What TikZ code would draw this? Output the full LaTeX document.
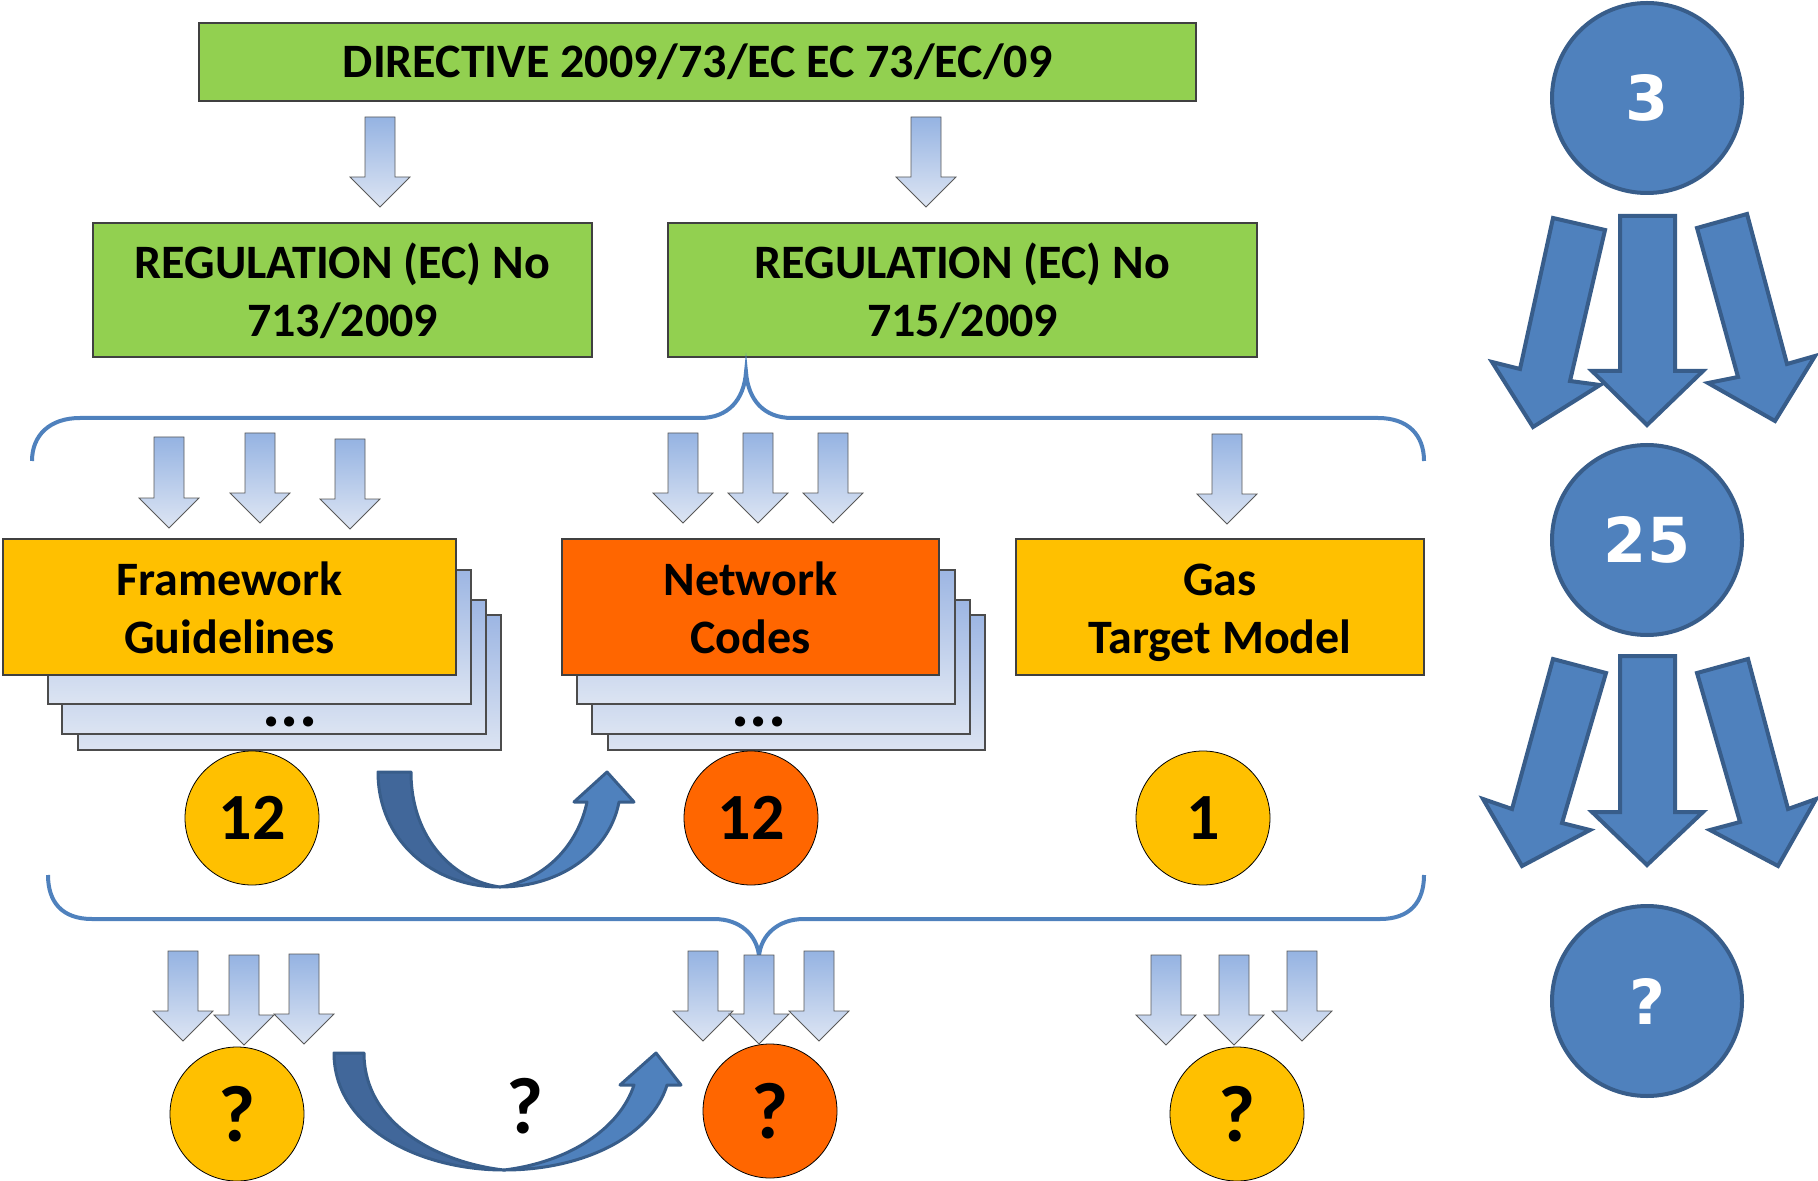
\documentclass[tikz,border=0pt]{standalone}
\usepackage{fontspec}
\setmainfont{Carlito}
\newfontfamily\dvb{DejaVu Sans}
\newcommand\ms{\rule[-5.7pt]{0pt}{29pt}}
\definecolor{grn}{HTML}{92D050}
\definecolor{gold}{HTML}{FFC000}
\definecolor{orng}{HTML}{FF6600}
\definecolor{blu}{HTML}{4F81BD}
\definecolor{bludk}{HTML}{385D8A}
\definecolor{bludk2}{HTML}{41679A}
\definecolor{arrtop}{HTML}{95B3E2}
\definecolor{arrbot}{HTML}{DDE5F3}
\definecolor{stktop}{HTML}{9DB6E3}
\definecolor{stkbot}{HTML}{DCE4F2}
\tikzset{
  box/.style={draw=black!75, line width=0.6pt, inner sep=0pt, align=center,
    font=\fontsize{24}{29}\selectfont\bfseries},
  numc/.style={circle, draw=black, line width=0.4pt, minimum size=67pt, inner sep=0pt,
    font=\fontsize{33}{33}\selectfont\bfseries},
  qfont/.style={font=\fontsize{40}{40}\selectfont\bfseries},
  bigc/.style={circle, draw=bludk, fill=blu, line width=2pt, minimum size=95pt, inner sep=0pt,
    text=white, font=\dvb\fontsize{31}{31}\selectfont\bfseries},
  barrow/.style={draw=black!65, line width=0.4pt, top color=arrtop, bottom color=arrbot},
  stack/.style={draw=black!70, line width=0.6pt, top color=stktop, bottom color=stkbot},
  brace/.style={draw=blu, line width=2pt},
  bigarr/.style={draw=bludk, fill=blu, line width=2pt, line join=miter},
  uarr/.style={draw=bludk, line width=1.5pt, line join=round},
  dots/.style={font=\fontsize{34}{34}\selectfont\bfseries, inner sep=0pt}
}
% block arrow: center x, top y, tip y
\newcommand\dnarrow[3]{\path[barrow] ({#1-15},#2) -- ({#1+15},#2) -- ({#1+15},{#3-30}) -- ({#1+30},{#3-30}) -- (#1,#3) -- ({#1-30},{#3-30}) -- ({#1-15},{#3-30}) -- cycle;}
\begin{document}
\begin{tikzpicture}[x=0.5pt,y=-0.5pt]
\useasboundingbox (0,0) rectangle (1818,1181);

% top level
\node[box, fill=grn, minimum width=498.5pt, minimum height=39pt] (dir) at (697.5,62) {DIRECTIVE 2009/73/EC EC 73/EC/09};
\dnarrow{380}{117}{207}
\dnarrow{926}{117}{207}
\node[box, fill=grn, minimum width=249.5pt, minimum height=67pt] (r713) at (342.5,290) {REGULATION (EC) No\ms\\713/2009\ms};
\node[box, fill=grn, minimum width=294.5pt, minimum height=67pt] (r715) at (962.5,290) {REGULATION (EC) No\ms\\715/2009\ms};

% top brace
\draw[brace] (32,461) .. controls (32,435) and (50,418) .. (80,418) -- (700,418)
  .. controls (728,418) and (744,400) .. (746,372)
  .. controls (748,400) and (764,418) .. (792,418) -- (1378,418)
  .. controls (1408,418) and (1424,435) .. (1424,461);

% arrows into second level
\dnarrow{169}{437}{528}
\dnarrow{260}{433}{523}
\dnarrow{350}{439}{529}
\dnarrow{683}{433}{523}
\dnarrow{758}{433}{523}
\dnarrow{833}{433}{523}
\dnarrow{1227}{434}{524}

% stacks
\draw[stack] (78,615) rectangle (501,750);
\draw[stack] (62,600) rectangle (486,734);
\draw[stack] (48,570) rectangle (471,704);
\draw[stack] (608,615) rectangle (985,750);
\draw[stack] (592,600) rectangle (970,734);
\draw[stack] (577,570) rectangle (955,704);
\node[dots] (d1) at (290,722) {...};
\node[dots] (d2) at (759,722) {...};

\node[box, fill=gold, minimum width=226.5pt, minimum height=68pt] (fg) at (229.5,607) {Framework\ms\\Guidelines\ms};
\node[box, fill=orng, minimum width=188.5pt, minimum height=68pt] (nc) at (750.5,607) {Network\ms\\Codes\ms};
\node[box, fill=gold, minimum width=204pt, minimum height=68pt] (gtm) at (1220,607) {Gas\ms\\Target Model\ms};

% counts
\node[numc, fill=gold] (c1) at (252,818) {12};
\node[numc, fill=orng] (c2) at (751,818) {12};
\node[numc, fill=gold] (c3) at (1203,818) {1};

% U-turn arrow 1
\path[uarr, fill=bludk2] (378,772) .. controls (378,840) and (432,887) .. (500,887)
  .. controls (455,881) and (411,840) .. (411,772) -- cycle;
\path[uarr, fill=blu] (500,887) .. controls (562,887) and (610,850) .. (619,802) -- (634,802) -- (607,772) -- (574,802) -- (587,802)
  .. controls (578,845) and (545,880) .. (500,887) -- cycle;

% bottom brace
\draw[brace] (48,875) .. controls (48,902) and (62,919) .. (92,919) -- (714,919)
  .. controls (740,919) and (757,935) .. (759,956)
  .. controls (761,935) and (778,919) .. (804,919) -- (1380,919)
  .. controls (1410,919) and (1424,902) .. (1424,875);

% bottom arrows
\dnarrow{183}{951}{1041}
\dnarrow{244}{955}{1045}
\dnarrow{304}{954}{1044}
\dnarrow{703}{951}{1041}
\dnarrow{759}{955}{1044}
\dnarrow{819}{951}{1041}
\dnarrow{1166}{955}{1045}
\dnarrow{1234}{955}{1045}
\dnarrow{1302}{951}{1041}

\node[numc, qfont, fill=gold] (q1) at (237,1114) {?};
\node[numc, qfont, fill=orng] (q2) at (770,1111) {?};
\node[numc, qfont, fill=gold] (q3) at (1237,1114) {?};

% U-turn arrow 2
\path[uarr, fill=bludk2] (334,1053) .. controls (334,1128) and (420,1170) .. (504,1170)
  .. controls (440,1163) and (364,1125) .. (364,1053) -- cycle;
\path[uarr, fill=blu] (504,1170) .. controls (585,1170) and (652,1135) .. (667,1085) -- (681,1085) -- (656,1053) -- (620,1085) -- (634,1085)
  .. controls (620,1128) and (570,1162) .. (504,1170) -- cycle;
\node[qfont] (ql) at (525,1106) {?};

% right column
\node[bigc] (b3) at (1647,98) {3};
\node[bigc] (b25) at (1647,540) {25};
\node[bigc] (bq) at (1647,1001) {?};
\path[bigarr] (1553,218) -- (1605,230) -- (1570,381) -- (1600,385) -- (1533,427) -- (1492,362) -- (1520,369) -- cycle;
\path[bigarr] (1620,216) -- (1675,216) -- (1675,371) -- (1703,371) -- (1647,425) -- (1592,371) -- (1620,371) -- cycle;
\path[bigarr] (1697,228) -- (1747,214) -- (1787,364) -- (1815,356) -- (1775,421) -- (1708,383) -- (1738,377) -- cycle;
\path[bigarr] (1553,659) -- (1606,673) -- (1562,823) -- (1590,830) -- (1522,866) -- (1483,799) -- (1512,809) -- cycle;
\path[bigarr] (1620,656) -- (1675,656) -- (1675,812) -- (1703,812) -- (1647,865) -- (1592,812) -- (1620,812) -- cycle;
\path[bigarr] (1697,673) -- (1748,659) -- (1788,809) -- (1816,799) -- (1778,866) -- (1710,830) -- (1740,822) -- cycle;
\end{tikzpicture}
\end{document}
